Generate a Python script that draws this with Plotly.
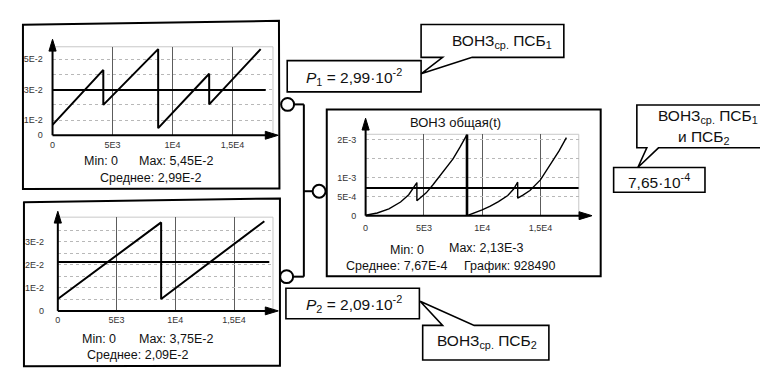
import plotly.graph_objects as go

W, H = 768, 374

# ---------------- data ----------------
t_psb1 = [0, 4230, 4230, 8800, 8800, 13050, 13050, 17340]
v_psb1 = [0.0069, 0.0430, 0.0200, 0.0567, 0.0047, 0.0405, 0.0203, 0.0567]
mean_psb1 = 0.0298

t_psb2 = [0, 8790, 8790, 17570]
v_psb2 = [0.0052, 0.0385, 0.0052, 0.0390]
mean_psb2 = 0.0213

t_total = [0, 1000, 2000, 3000, 3700, 4400, 4400, 5200, 5800, 6300, 6900, 7500, 8100, 8700,
           8700, 9300, 10000, 10700, 11400, 12200, 12700, 13050, 13050, 13500, 14100, 15000,
           16000, 16600, 17230]
v_total = [0.00001, 0.00007, 0.00018, 0.00036, 0.00055, 0.00087, 0.00039, 0.00060, 0.00082,
           0.00101, 0.00124, 0.00149, 0.00180, 0.00213, 0.0, 0.00006, 0.00015, 0.00025,
           0.00037, 0.00053, 0.00070, 0.00088, 0.00046, 0.00054, 0.00066, 0.00094, 0.00141,
           0.00170, 0.00205]
mean_total = 0.00073

mean_t_end = [17760, 17990, 18290]

x_tickvals = [0, 5000, 10000, 15000]
x_ticktext = ["0", "5E3", "1E4", "1,5E4"]
y1_tickvals = [0, 0.01, 0.03, 0.05]
y1_ticktext = ["0", "1E-2", "3E-2", "5E-2"]
y1_minor = [0.02, 0.04]
y2_tickvals = [0, 0.01, 0.02, 0.03]
y2_ticktext = ["0", "1E-2", "2E-2", "3E-2"]
y2_minor = [0.005, 0.015, 0.025, 0.035]
y3_tickvals = [0, 0.0005, 0.001, 0.002]
y3_ticktext = ["0", "5E-4", "1E-3", "2E-3"]
y3_minor = [0.0015]

# ---------------- helpers ----------------
def X(px):
    return px / W

def Y(py):
    return 1 - py / H

FONT = "Liberation Sans, Arial, sans-serif"

def path(points, close=True):
    s = "M " + " L ".join(f"{X(a):.5f},{Y(b):.5f}" for a, b in points)
    return s + (" Z" if close else "")

shapes = []
annotations = []

def add_path(points, width=2, fill=None, close=True, color="black", layer="above"):
    shapes.append(dict(type="path", path=path(points, close), xref="paper", yref="paper",
                       line=dict(color=color, width=width),
                       fillcolor=fill if fill else "rgba(0,0,0,0)", layer=layer))

def add_line(x0, y0, x1, y1, width=2, color="black", layer="above"):
    shapes.append(dict(type="line", xref="paper", yref="paper", x0=X(x0), y0=Y(y0),
                       x1=X(x1), y1=Y(y1), line=dict(color=color, width=width), layer=layer))

def add_circle(cx, cy, r, width=2):
    shapes.append(dict(type="circle", xref="paper", yref="paper", x0=X(cx - r), x1=X(cx + r),
                       y0=Y(cy + r), y1=Y(cy - r), line=dict(color="black", width=width),
                       fillcolor="white", layer="above"))

def add_text(text, cx, cy, size=12.5, anchor="center"):
    annotations.append(dict(text=text, x=X(cx), y=Y(cy), xref="paper", yref="paper",
                            xanchor=anchor, yanchor="middle", showarrow=False,
                            font=dict(family=FONT, size=size, color="#111")))

# ---------------- panels (pixel geometry) ----------------
panels = [
    dict(l=41.7, r=263, t=39.3, b=129, ytip=31.7, xtip=268.3, ylen=7, xlen=0.5),
    dict(l=47, r=263, t=212, b=307, ytip=206, xtip=268.3, ylen=11, xlen=0.5),
    dict(l=356, r=570, t=128, b=210.5, ytip=111.7, xtip=583.3, ylen=6.5, xlen=4),
]
x_scale = [12.05e-3, 11.8e-3, 11.7e-3]      # px per unit of t
y_scale = [1540, 2330, 38600]                # px per unit of value

series = [(t_psb1, v_psb1, mean_psb1), (t_psb2, v_psb2, mean_psb2), (t_total, v_total, mean_total)]
yticks = [(y1_tickvals, y1_ticktext, y1_minor), (y2_tickvals, y2_ticktext, y2_minor),
          (y3_tickvals, y3_ticktext, y3_minor)]

fig = go.Figure()
layout_axes = {}
for i, p in enumerate(panels):
    k = "" if i == 0 else str(i + 1)
    xr = (p["r"] - p["l"]) / x_scale[i]
    yr = (p["b"] - p["t"]) / y_scale[i]
    tv, tt, mn = yticks[i]
    layout_axes["xaxis" + k] = dict(
        domain=[X(p["l"]), X(p["r"])], range=[0, xr], anchor="y" + k,
        tickvals=x_tickvals, ticktext=x_ticktext, showgrid=True, gridcolor="#5c5c5c",
        gridwidth=1, zeroline=False, showline=False,
        ticks="outside", ticklen=p["xlen"], tickcolor="rgba(0,0,0,0)",
        tickfont=dict(family=FONT, size=9, color="#333"), fixedrange=True)
    layout_axes["yaxis" + k] = dict(
        domain=[Y(p["b"]), Y(p["t"])], range=[0, yr], anchor="x" + k,
        tickvals=tv, ticktext=tt, showgrid=True, gridcolor="#b8b8b8", griddash="3px,3px",
        gridwidth=1, minor=dict(tickvals=mn, showgrid=True, gridcolor="#b8b8b8",
                                griddash="3px,3px", gridwidth=1, ticks=""),
        zeroline=False, showline=False,
        ticks="outside", ticklen=p["ylen"], tickcolor="rgba(0,0,0,0)",
        tickfont=dict(family=FONT, size=9, color="#333"), fixedrange=True)

    t, v, m = series[i]
    lw = 2 if i < 2 else 1.4
    fig.add_trace(go.Scatter(x=t, y=v, mode="lines", line=dict(color="black", width=lw),
                             xaxis="x" + k, yaxis="y" + k, hoverinfo="skip", showlegend=False))
    fig.add_trace(go.Scatter(x=[0, mean_t_end[i]], y=[m, m], mode="lines",
                             line=dict(color="black", width=2), xaxis="x" + k, yaxis="y" + k,
                             hoverinfo="skip", showlegend=False))
    if i == 2:
        # the big drop of the total curve is drawn heavier
        j = max(range(len(v) - 1), key=lambda n: v[n] - v[n + 1])
        fig.add_trace(go.Scatter(x=[t[j], t[j + 1]], y=[v[j], v[j + 1]], mode="lines",
                                 line=dict(color="black", width=2.6), xaxis="x" + k,
                                 yaxis="y" + k, hoverinfo="skip", showlegend=False))

    # plot-area frame (light grey)
    add_path([(p["l"], p["b"]), (p["l"], p["t"]), (p["r"], p["t"]), (p["r"], p["b"])],
             width=1, color="#c8c8c8", close=False, layer="below")
    # axes with arrows
    add_line(p["l"], p["b"], p["l"], p["ytip"] + 10, width=2)
    add_line(p["l"], p["b"], p["xtip"] - 10, p["b"], width=2)
    add_path([(p["l"], p["ytip"]), (p["l"] - 3.6, p["ytip"] + 12), (p["l"] + 3.6, p["ytip"] + 12)],
             width=1, fill="black")
    add_path([(p["xtip"], p["b"]), (p["xtip"] - 13, p["b"] - 4), (p["xtip"] - 13, p["b"] + 4)],
             width=1, fill="black")

# ---------------- panel frames ----------------
add_path([(12, 17), (269, 13), (269.5, 183), (12, 183.5)], width=2)
add_path([(13, 197), (270, 193), (270, 362.5), (13, 363)], width=2)
add_path([(317, 103), (592, 103), (592, 272), (317, 272)], width=2)

# ---------------- connectors ----------------
add_line(284, 97.7, 294, 97.7, width=2)
add_line(294, 97.7, 294, 272.3, width=2)
add_line(283, 272.3, 294, 272.3, width=2)
add_line(294, 185.7, 303, 185.7, width=2)
add_circle(277.7, 97.7, 6.5)
add_circle(276.7, 272.3, 6.5)
add_circle(309.3, 185.7, 6.5)

# ---------------- callouts ----------------
add_path([(277.3, 53.3), (411.7, 53.3), (411.7, 85), (277.3, 85)], width=1.6, fill="white")
add_path([(411.7, 16.7), (555, 16.7), (555, 50), (463, 50), (411.7, 66.7), (433.3, 50),
          (411.7, 50)], width=1.6, fill="white")
add_path([(276, 284), (410, 284), (410, 315), (276, 315)], width=1.6, fill="white")
add_path([(413.3, 321.7), (433.3, 321.7), (410.7, 297.3), (465, 321.7), (540, 321.7),
          (540, 356.7), (413.3, 356.7)], width=1.6, fill="white")
add_path([(628.3, 98.3), (761.7, 98.3), (761.7, 141.7), (650, 141.7), (629.3, 161.7),
          (638.3, 141.7), (628.3, 141.7)], width=1.6, fill="white")
add_path([(605, 161.7), (696.7, 161.7), (696.7, 186.7), (605, 186.7)], width=1.6, fill="white")

CS = 15.5
add_text("<i>P</i><sub>1</sub> = 2,99·10<sup>-2</sup>", 344, 70, size=CS)
add_text("ВОНЗ<sub>ср.</sub> ПСБ<sub>1</sub>", 493, 33.5, size=CS)
add_text("<i>P</i><sub>2</sub> = 2,09·10<sup>-2</sup>", 344, 300.5, size=CS)
add_text("ВОНЗ<sub>ср.</sub> ПСБ<sub>2</sub>", 477.5, 338.5, size=CS)
add_text("ВОНЗ<sub>ср.</sub> ПСБ<sub>1</sub>", 700, 110, size=CS)
add_text("и ПСБ<sub>2</sub>", 696, 131, size=CS)
add_text("7,65·10<sup>-4</sup>", 651, 175, size=CS)

# ---------------- panel statistics ----------------
add_text("Min: 0", 90, 155)
add_text("Max: 5,45E-2", 165.5, 155)
add_text("Среднее: 2,99E-2", 140.5, 172)
add_text("Min: 0", 88.5, 335)
add_text("Max: 3,75E-2", 165.5, 335)
add_text("Среднее: 2,09E-2", 127, 352)
add_text("ВОНЗ общая(t)", 446.5, 116, size=13)
add_text("Min: 0", 397.5, 245)
add_text("Max: 2,13E-3", 476.5, 243)
add_text("Среднее: 7,67E-4", 387.5, 262)
add_text("График: 928490", 500, 262)

fig.update_layout(
    width=W, height=H, autosize=False,
    margin=dict(l=0, r=0, t=0, b=0, pad=0),
    paper_bgcolor="white", plot_bgcolor="white",
    shapes=shapes, annotations=annotations, showlegend=False,
    font=dict(family=FONT, color="#111"),
    **layout_axes,
)

fig.write_html("out.html", config=dict(displayModeBar=False, staticPlot=True))
